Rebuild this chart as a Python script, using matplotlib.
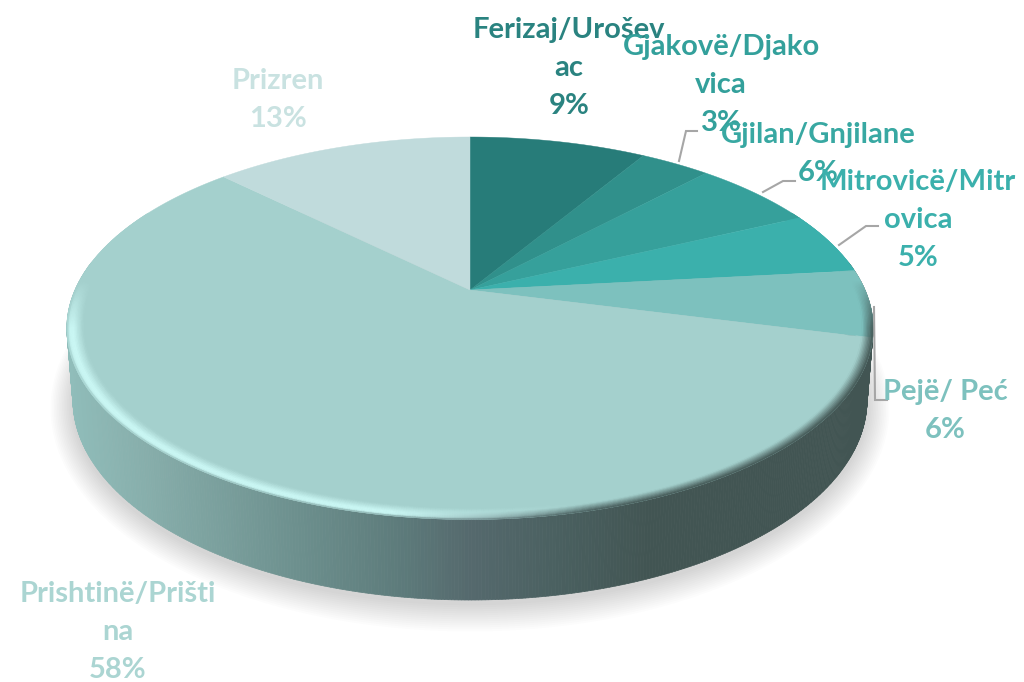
import numpy as np
import matplotlib
matplotlib.use("Agg")
import matplotlib.pyplot as plt
from matplotlib.collections import PolyCollection
from matplotlib.colors import to_rgb
from matplotlib.patches import Polygon

categories = ["Ferizaj/Uroševac", "Gjakovë/Djakovica", "Gjilan/Gnjilane", "Mitrovicë/Mitrovica",
              "Pejë/ Peć", "Prishtinë/Priština", "Prizren"]
wrapped = ["Ferizaj/Urošev\nac", "Gjakovë/Djako\nvica", "Gjilan/Gnjilane", "Mitrovicë/Mitr\novica",
           "Pejë/ Peć", "Prishtinë/Prišti\nna", "Prizren"]
values = [8.6, 3.4, 6.0, 5.3, 5.7, 58.4, 12.6]
colors = ["#277C79", "#30908B", "#36A09B", "#3BB0AC", "#7DC1BE", "#A4D0CD", "#C0DBDC"]
label_colors = ["#2A8380", "#33A09B", "#38A8A2", "#3BB0AC", "#7DC1BE", "#ABD5D2", "#C9E2E1"]
label_xy = [(569, 68), (721, 85), (818, 154), (918, 220), (945, 411), (118, 632), (278, 100)]
leaders = {1: [(679, 161), (686, 131), (697, 131)],
           2: [(763, 192), (783, 181), (795, 181)],
           3: [(839, 245), (866, 226), (878, 226)],
           4: [(874, 307), (875, 400), (887, 400)]}

fig = plt.figure(figsize=(10.24, 6.82), dpi=100, facecolor="white")
ax = fig.add_axes([0, 0, 1, 1])
ax.set_xlim(0, 1024)
ax.set_ylim(682, 0)
ax.axis("off")

K = 0.2
def project(t, r=1.0, cx=470.0, cy=290.0, R=395.0, S=183.6):
    x, y = r * np.sin(t), r * np.cos(t)
    d = 1 + K * y
    return cx + R * x / d, cy - S * y / d

def bottom(t, r=1.0, grow=0.0, dy=0.0):
    return project(t, r, cy=360.0 + dy, R=389.0 + grow, S=192.0 + grow)

# soft shadow under the disc
tt = np.linspace(0, 2 * np.pi, 361)
for g in np.linspace(22, 1, 14):
    bx, by = bottom(tt, grow=g, dy=4)
    ax.add_patch(Polygon(np.c_[bx, by], closed=True, fc="#000000", ec="none", alpha=0.012, zorder=1))

# side wall, shaded by horizontal position
side_x = [66, 150, 300, 400, 470, 560, 650, 880]
side_c = np.array([to_rgb(c) for c in ["#90BDBA", "#86ADAA", "#6C8F8D", "#5D7B7B", "#55696D",
                                       "#4A6060", "#425553", "#425553"]])
def side_color(x):
    return np.array([np.interp(x, side_x, side_c[:, i]) for i in range(3)]).T

ts = np.linspace(np.pi * 0.45, np.pi * 1.55, 500)
tx, ty = project(ts)
bx, by = bottom(ts)
quads = [[(tx[i], ty[i]), (tx[i + 1], ty[i + 1]), (bx[i + 1], by[i + 1]), (bx[i], by[i])] for i in range(len(ts) - 1)]
sc = side_color((tx[:-1] + tx[1:]) / 2)
ax.add_collection(PolyCollection(quads, facecolors=sc, edgecolors=sc, linewidths=0.5, zorder=2))

# top slices
frac = np.array(values) / sum(values)
edges = np.concatenate([[0], np.cumsum(frac)]) * 2 * np.pi
for i in range(len(values)):
    t = np.linspace(edges[i], edges[i + 1], 200)
    px, py = project(t)
    ax.add_patch(Polygon(np.r_[[[470, 290]], np.c_[px, py]], closed=True, fc=colors[i], ec=colors[i],
                         lw=0.3, zorder=3))

# bevel along the front rim
rgb = [np.array(to_rgb(c)) for c in colors]
hi = np.array(to_rgb("#CBF8F5"))
tb = np.linspace(np.pi * 0.35, np.pi * 1.65, 800)
rs = np.linspace(0.96, 1.0, 13)
bq, bc = [], []
for i in range(len(tb) - 1):
    tm = (tb[i] + tb[i + 1]) / 2
    k = np.searchsorted(edges, tm) - 1
    base = rgb[k]
    strength = np.clip((0.05 - np.cos(tm)) / 0.25, 0, 1)
    xm = project(tm)[0]
    lit = np.clip((590 - xm) / 200, 0, 1) * (1.0 if k == 5 else 0.0)
    sd = side_color(xm)
    for j in range(len(rs) - 1):
        u = (j + 0.5) / (len(rs) - 1)
        if u < 0.6:
            c_lit = base + (hi - base) * (u / 0.6)
        elif u < 0.85:
            c_lit = hi
        else:
            c_lit = hi + (sd - hi) * ((u - 0.85) / 0.15) * 0.7
        c_dark = base + (sd - base) * np.clip((u - 0.35) / 0.65, 0, 1)
        c = c_dark + (c_lit - c_dark) * lit
        c = base + (c - base) * strength
        x1, y1 = project(tb[i], rs[j]); x2, y2 = project(tb[i + 1], rs[j])
        x3, y3 = project(tb[i + 1], rs[j + 1]); x4, y4 = project(tb[i], rs[j + 1])
        bq.append([(x1, y1), (x2, y2), (x3, y3), (x4, y4)])
        bc.append(c)
ax.add_collection(PolyCollection(bq, facecolors=bc, edgecolors=bc, linewidths=0.3, zorder=4))

# leaders
for pts in leaders.values():
    xs, ys = zip(*pts)
    ax.plot(xs, ys, color="#A6A6A6", lw=1.5, solid_joinstyle="miter", zorder=5)

# labels
for i, name in enumerate(wrapped):
    pct = f"{round(frac[i] * 100):d}%"
    ax.text(label_xy[i][0], label_xy[i][1], f"{name}\n{pct}", color=label_colors[i], ha="center", va="center",
            family=["Lato", "DejaVu Sans"], weight="bold", fontsize=21, linespacing=1.58, zorder=6 + i)

fig.savefig("out.png", dpi=100, facecolor="white")
